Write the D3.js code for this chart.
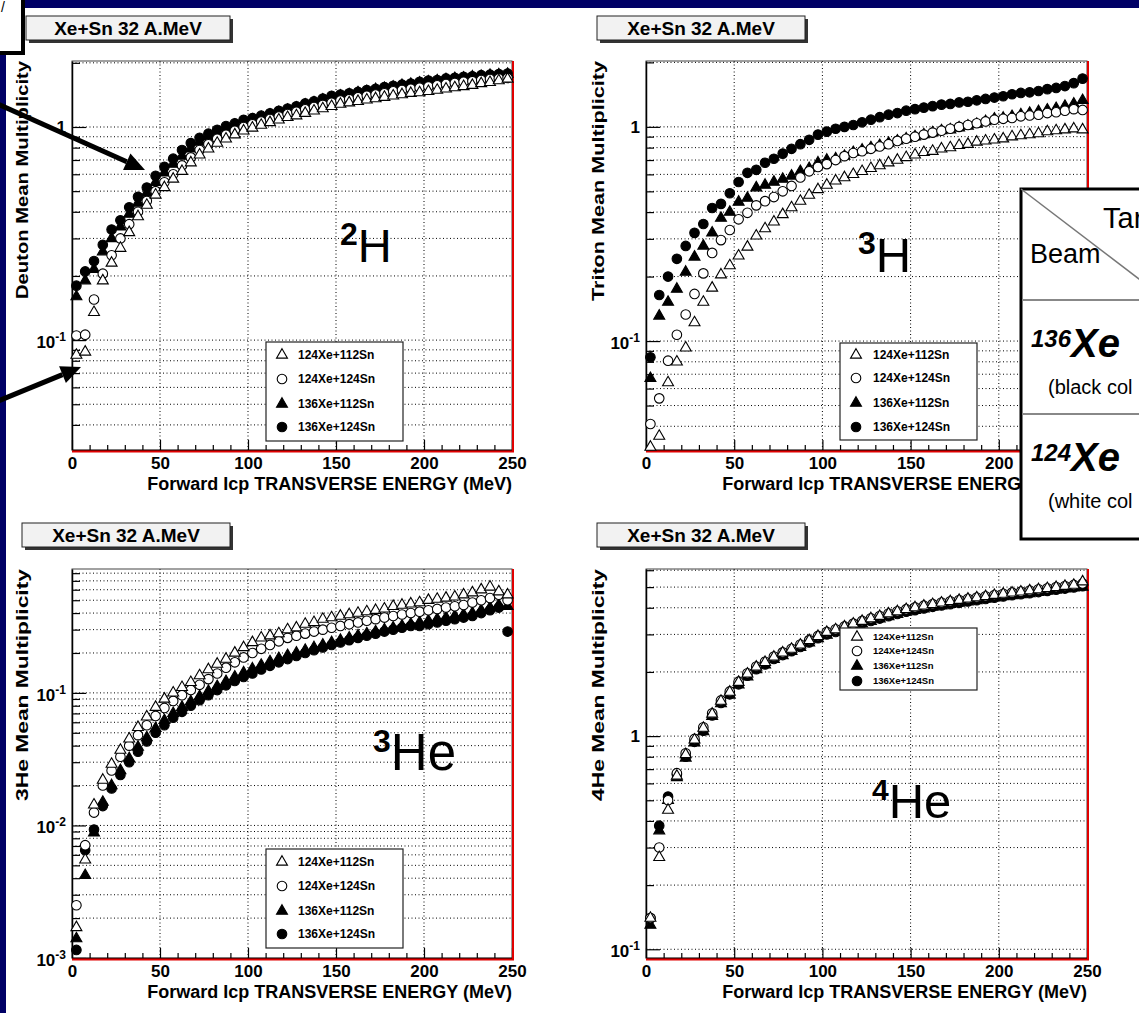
<!DOCTYPE html>
<html>
<head>
<meta charset="utf-8">
<script src="https://cdn.jsdelivr.net/npm/d3@7"></script>
<style>
  body { margin: 0; background: #000066; }
  svg text { font-family: "Liberation Sans", Arial, sans-serif; }
</style>
</head>
<body>
<div id="chart"></div>
<script>
// bin centres (MeV)
const energy = [2.5,7.5,12.5,17.5,22.5,27.5,32.5,37.5,42.5,47.5,52.5,57.5,62.5,67.5,72.5,77.5,82.5,87.5,92.5,97.5,
  102.5,107.5,112.5,117.5,122.5,127.5,132.5,137.5,142.5,147.5,152.5,157.5,162.5,167.5,172.5,177.5,182.5,187.5,192.5,197.5,
  202.5,207.5,212.5,217.5,222.5,227.5,232.5,237.5,242.5,247.5];

const systems = ["124Xe+112Sn", "124Xe+124Sn", "136Xe+112Sn", "136Xe+124Sn"];
const xMajor = [0, 50, 100, 150, 200, 250];
const xMinor = [10,20,30,40,60,70,80,90,110,120,130,140,160,170,180,190,210,220,230,240];

// Deuton
const deutonWT = [0.085,0.088,0.135,0.19,0.23,0.27,0.32,0.38,0.43,0.48,0.52,0.57,0.62,0.68,0.74,0.79,0.84,0.88,0.92,0.96,
  0.99,1.02,1.05,1.08,1.11,1.13,1.16,1.19,1.22,1.25,1.28,1.3,1.32,1.34,1.36,1.38,1.4,1.42,1.44,1.45,1.47,1.49,1.51,1.53,1.55,1.57,1.6,1.62,1.65,1.68];
const deutonWC = [0.105,0.106,0.155,0.205,0.25,0.3,0.35,0.4,0.45,0.5,0.55,0.6,0.66,0.72,0.78,0.83,0.88,0.92,0.96,1.0,
  1.03,1.06,1.09,1.12,1.15,1.18,1.21,1.24,1.27,1.3,1.33,1.35,1.38,1.4,1.42,1.44,1.47,1.49,1.51,1.53,1.55,1.57,1.59,1.61,1.63,1.64,1.66,1.68,1.69,1.7];
const deutonBT = [0.16,0.19,0.215,0.26,0.3,0.34,0.39,0.44,0.49,0.55,0.61,0.67,0.73,0.79,0.85,0.9,0.94,0.98,1.02,1.05,
  1.08,1.11,1.14,1.17,1.2,1.23,1.27,1.3,1.34,1.37,1.4,1.42,1.45,1.47,1.5,1.52,1.54,1.57,1.59,1.61,1.63,1.65,1.67,1.69,1.7,1.72,1.73,1.75,1.76,1.77];
const deutonBC = [0.18,0.21,0.235,0.28,0.33,0.365,0.42,0.47,0.52,0.59,0.65,0.71,0.78,0.84,0.89,0.93,0.97,1.01,1.04,1.08,
  1.1,1.13,1.16,1.19,1.22,1.25,1.29,1.32,1.36,1.4,1.42,1.44,1.46,1.49,1.51,1.54,1.56,1.58,1.6,1.63,1.65,1.66,1.69,1.7,1.72,1.73,1.75,1.76,1.77,1.78];

// Triton
const tritonWT = [0.032,0.036,0.064,0.08,0.093,0.122,0.152,0.177,0.204,0.225,0.25,0.275,0.31,0.335,0.36,0.39,0.42,0.45,0.48,0.51,
  0.535,0.56,0.58,0.6,0.62,0.64,0.66,0.68,0.7,0.72,0.74,0.76,0.77,0.79,0.8,0.82,0.83,0.85,0.86,0.87,0.88,0.9,0.91,0.92,0.93,0.95,0.96,0.97,0.98,0.97];
const tritonWC = [0.041,0.054,0.081,0.107,0.133,0.166,0.207,0.258,0.296,0.33,0.37,0.397,0.43,0.45,0.47,0.5,0.53,0.58,0.62,0.65,
  0.67,0.7,0.73,0.755,0.77,0.79,0.81,0.83,0.86,0.88,0.9,0.92,0.94,0.96,0.98,1.0,1.02,1.04,1.06,1.08,1.09,1.1,1.12,1.13,1.14,1.16,1.17,1.19,1.21,1.2];
const tritonBT = [0.067,0.131,0.152,0.175,0.21,0.247,0.278,0.32,0.375,0.4,0.446,0.465,0.52,0.535,0.553,0.57,0.59,0.62,0.64,0.68,
  0.7,0.71,0.73,0.76,0.78,0.8,0.82,0.84,0.86,0.88,0.9,0.92,0.94,0.96,0.97,0.99,1.01,1.03,1.06,1.09,1.1,1.12,1.14,1.16,1.18,1.2,1.22,1.25,1.28,1.33];
const tritonBC = [0.084,0.164,0.2,0.242,0.278,0.32,0.352,0.418,0.437,0.49,0.553,0.61,0.63,0.68,0.71,0.75,0.79,0.83,0.87,0.92,
  0.95,0.98,1.0,1.02,1.05,1.08,1.11,1.14,1.16,1.19,1.21,1.23,1.25,1.27,1.28,1.3,1.31,1.33,1.35,1.37,1.39,1.42,1.44,1.45,1.47,1.5,1.52,1.55,1.6,1.68];

// 3He
const he3WT = [0.0017,0.0055,0.0143,0.022,0.029,0.037,0.045,0.055,0.066,0.078,0.09,0.1,0.11,0.12,0.135,0.15,0.165,0.18,0.2,0.22,
  0.24,0.26,0.27,0.28,0.3,0.31,0.33,0.34,0.36,0.37,0.38,0.39,0.4,0.41,0.42,0.43,0.45,0.46,0.47,0.48,0.5,0.51,0.52,0.53,0.55,0.57,0.6,0.63,0.58,0.55];
const he3WC = [0.0025,0.0071,0.0125,0.02,0.026,0.033,0.04,0.048,0.057,0.067,0.077,0.087,0.096,0.105,0.115,0.127,0.14,0.155,0.17,0.185,
  0.2,0.215,0.23,0.245,0.26,0.27,0.28,0.29,0.3,0.31,0.32,0.33,0.34,0.35,0.36,0.37,0.38,0.39,0.4,0.41,0.42,0.43,0.44,0.45,0.46,0.48,0.5,0.52,0.55,0.5];
const he3BT = [0.0014,0.0042,0.0088,0.015,0.02,0.026,0.032,0.039,0.046,0.054,0.062,0.07,0.078,0.086,0.094,0.103,0.112,0.122,0.132,0.142,
  0.152,0.162,0.172,0.182,0.192,0.2,0.21,0.22,0.23,0.24,0.25,0.26,0.27,0.28,0.29,0.3,0.31,0.32,0.33,0.34,0.35,0.36,0.37,0.38,0.39,0.4,0.42,0.44,0.46,0.45];
const he3BC = [0.00115,0.0065,0.0093,0.014,0.019,0.024,0.03,0.036,0.043,0.05,0.057,0.065,0.072,0.08,0.088,0.096,0.105,0.114,0.123,0.132,
  0.14,0.15,0.16,0.17,0.18,0.19,0.2,0.21,0.22,0.23,0.24,0.25,0.26,0.27,0.28,0.29,0.3,0.31,0.32,0.32,0.33,0.34,0.35,0.36,0.37,0.38,0.4,0.42,0.44,0.29];

// 4He
const he4WT = [0.14,0.27,0.45,0.65,0.82,0.96,1.09,1.27,1.46,1.61,1.79,1.96,2.11,2.22,2.35,2.46,2.56,2.68,2.81,2.94,
  3.07,3.16,3.26,3.36,3.46,3.56,3.65,3.75,3.84,3.93,4.01,4.08,4.15,4.22,4.28,4.34,4.4,4.46,4.52,4.58,4.64,4.7,4.75,4.81,4.87,4.93,4.99,5.05,5.11,5.3];
const he4WC = [0.14,0.3,0.5,0.67,0.83,0.97,1.1,1.28,1.47,1.62,1.8,1.97,2.12,2.23,2.36,2.47,2.57,2.69,2.82,2.95,
  3.08,3.17,3.27,3.37,3.47,3.57,3.66,3.76,3.85,3.94,4.02,4.09,4.16,4.23,4.29,4.35,4.41,4.47,4.53,4.59,4.65,4.71,4.76,4.82,4.88,4.94,5.0,5.06,5.12,5.2];
const he4BT = [0.13,0.36,0.5,0.64,0.79,0.93,1.05,1.24,1.42,1.56,1.74,1.9,2.05,2.16,2.29,2.39,2.5,2.61,2.74,2.87,
  2.98,3.07,3.17,3.27,3.36,3.46,3.55,3.64,3.73,3.82,3.89,3.96,4.03,4.09,4.15,4.21,4.27,4.33,4.39,4.45,4.51,4.57,4.62,4.67,4.73,4.79,4.85,4.91,4.97,5.0];
const he4BC = [0.14,0.38,0.52,0.66,0.8,0.94,1.06,1.25,1.43,1.57,1.75,1.92,2.06,2.17,2.3,2.4,2.5,2.62,2.75,2.88,
  3.0,3.08,3.18,3.28,3.38,3.47,3.56,3.65,3.74,3.83,3.9,3.97,4.04,4.1,4.16,4.22,4.28,4.34,4.4,4.46,4.52,4.58,4.63,4.68,4.74,4.8,4.86,4.92,4.98,5.05];

var W = 1139, H = 1013;
var svg = d3.select("#chart").append("svg")
    .attr("width", W).attr("height", H);

// slide background
svg.append("rect").attr("width", W).attr("height", H).attr("fill", "#000066");
svg.append("rect").attr("x", 6).attr("y", 8).attr("width", W).attr("height", H).attr("fill", "#fff");

var triangle = d3.symbol().type(d3.symbolTriangle).size(52);
var circle = d3.symbol().type(d3.symbolCircle).size(72);

// marker styles: open tri, open circle, full tri, full circle
var markers = [
  {sym: triangle, fill: "#fff"},
  {sym: circle, fill: "#fff"},
  {sym: triangle, fill: "#000"},
  {sym: circle, fill: "#000"}
];

function drawPanel(p) {
  var g = svg.append("g");
  var x = d3.scaleLinear().domain([0, 250]).range([p.left, p.right]);
  var y = d3.scaleLog().domain(p.yDomain).range([p.bottom, p.top]);

  // title box with shadow
  g.append("rect").attr("x", p.boxX + 3).attr("y", p.boxY + 3)
    .attr("width", p.boxW).attr("height", 24).attr("fill", "#333");
  g.append("rect").attr("x", p.boxX).attr("y", p.boxY)
    .attr("width", p.boxW).attr("height", 24)
    .attr("fill", "#f2f2f2").attr("stroke", "#222").attr("stroke-width", 1);
  g.append("text").attr("x", p.boxX + p.boxW / 2).attr("y", p.boxY + 19)
    .attr("text-anchor", "middle").attr("font-weight", "bold").attr("font-size", 19)
    .text("Xe+Sn 32 A.MeV");

  // grid
  var yt = y.ticks().filter(function(t) { return y(t) < p.bottom - 1 && y(t) > p.top + 1; });
  g.selectAll(".hg").data(yt).enter().append("line")
    .attr("x1", p.left).attr("x2", p.right)
    .attr("y1", function(d) { return y(d); }).attr("y2", function(d) { return y(d); })
    .attr("stroke", "#000").attr("stroke-width", 1).attr("stroke-dasharray", "1,2.5");
  g.selectAll(".vg").data([50, 100, 150, 200]).enter().append("line")
    .attr("x1", function(d) { return x(d); }).attr("x2", function(d) { return x(d); })
    .attr("y1", p.top).attr("y2", p.bottom)
    .attr("stroke", "#000").attr("stroke-width", 1).attr("stroke-dasharray", "1,2.5");

  // frame
  g.append("rect").attr("x", p.left).attr("y", p.top)
    .attr("width", p.right - p.left).attr("height", p.bottom - p.top)
    .attr("fill", "none").attr("stroke", "#444").attr("stroke-width", 1);

  // x axis
  var xa = g.append("g").attr("transform", "translate(0," + p.bottom + ")")
    .call(d3.axisBottom(x).tickValues(xMajor).tickSize(-10).tickSizeOuter(0).tickPadding(7));
  xa.selectAll("text").attr("font-size", 17).attr("font-weight", "bold").attr("fill", "#000")
    .style("font-family", "'Liberation Sans', Arial, sans-serif");
  xa.selectAll("line").attr("stroke-width", 1.2);
  xa.select(".domain").attr("stroke-width", 1.5);
  var xm = g.append("g").attr("transform", "translate(0," + p.bottom + ")")
    .call(d3.axisBottom(x).tickValues(xMinor).tickSize(-5).tickSizeOuter(0).tickFormat(""));
  xm.select(".domain").remove();
  xm.selectAll("line").attr("stroke-width", 1.2);

  // y axis
  var decades = y.ticks().filter(function(t) { return Math.abs(Math.log10(t) - Math.round(Math.log10(t))) < 1e-6; });
  var minors = y.ticks().filter(function(t) { return decades.indexOf(t) < 0; });
  var ya = g.append("g").attr("transform", "translate(" + p.left + ",0)")
    .call(d3.axisLeft(y).tickValues(decades).tickSize(-14).tickSizeOuter(0).tickFormat(""));
  ya.selectAll("line").attr("stroke-width", 1.2);
  ya.select(".domain").attr("stroke-width", 1.5);
  var ym = g.append("g").attr("transform", "translate(" + p.left + ",0)")
    .call(d3.axisLeft(y).tickValues(minors).tickSize(-8).tickSizeOuter(0).tickFormat(""));
  ym.select(".domain").remove();
  ym.selectAll("line").attr("stroke-width", 1.2);

  decades.forEach(function(t) {
    var e = Math.round(Math.log10(t));
    var lab = g.append("text").attr("text-anchor", "end").attr("font-weight", "bold")
      .attr("font-size", 17).attr("x", p.left - 6).attr("y", y(t) + 8);
    if (e === 0) {
      lab.text("1").attr("y", y(t) + 6);
    } else {
      lab.append("tspan").text("10");
      lab.append("tspan").attr("font-size", 12).attr("dy", -7).text(String(e));
    }
  });

  // red edges
  g.append("line").attr("x1", p.right + 1).attr("x2", p.right + 1)
    .attr("y1", p.top).attr("y2", p.bottom + 2).attr("stroke", "#e00000").attr("stroke-width", 2);
  g.append("line").attr("x1", p.left).attr("x2", p.right + 2)
    .attr("y1", p.bottom + 1.5).attr("y2", p.bottom + 1.5).attr("stroke", "#e00000").attr("stroke-width", 2);

  // axis titles
  g.append("text").attr("x", p.right).attr("y", p.bottom + 40)
    .attr("text-anchor", "end").attr("font-weight", "bold").attr("font-size", 18)
    .text("Forward Icp TRANSVERSE ENERGY (MeV)");
  g.append("text").attr("transform", "translate(" + p.ytx + "," + p.top + ") rotate(-90)")
    .attr("text-anchor", "end").attr("font-weight", "bold").attr("font-size", 16)
    .attr("textLength", p.ytLen).attr("lengthAdjust", "spacingAndGlyphs")
    .text(p.yTitle);

  // data: filled first, open on top
  [3, 2, 1, 0].forEach(function(k) {
    g.append("g").selectAll("path").data(p.series[k].map(function(v, i) { return [energy[i], v]; }))
      .enter().append("path")
      .attr("transform", function(d) { return "translate(" + x(d[0]) + "," + y(d[1]) + ")"; })
      .attr("d", markers[k].sym)
      .attr("fill", markers[k].fill).attr("stroke", "#000").attr("stroke-width", 1.1);
  });

  // big isotope label
  var big = g.append("text").attr("x", p.lab[0]).attr("y", p.lab[1]).attr("font-size", p.lab[3]);
  big.append("tspan").attr("font-weight", "bold").attr("font-size", p.lab[4])
    .attr("dy", -p.lab[3] * 0.36).text(p.lab[2][0]);
  big.append("tspan").attr("dy", p.lab[3] * 0.36).text(p.lab[2][1]);

  // legend
  var L = p.legend;
  g.append("rect").attr("x", L.x).attr("y", L.y).attr("width", L.w).attr("height", L.h)
    .attr("fill", "#fff").attr("stroke", "#222").attr("stroke-width", 1.2);
  systems.forEach(function(s, k) {
    var cy = L.y + L.rows[k];
    g.append("path").attr("transform", "translate(" + (L.x + L.mx) + "," + cy + ")")
      .attr("d", markers[k].sym).attr("fill", markers[k].fill).attr("stroke", "#000").attr("stroke-width", 1.1);
    g.append("text").attr("x", L.x + L.tx).attr("y", cy + L.fs * 0.36)
      .attr("font-size", L.fs).attr("font-weight", "bold").text(s);
  });
}

drawPanel({left: 72, right: 512, top: 61, bottom: 450, yDomain: [0.0305, 2.04],
  boxX: 26, boxY: 16, boxW: 204, ytx: 28, ytLen: 238, yTitle: "Deuton Mean Multiplicity",
  series: [deutonWT, deutonWC, deutonBT, deutonBC],
  lab: [340, 262, ["2", "H"], 47, 32],
  legend: {x: 266, y: 342, w: 137, h: 99, mx: 16, tx: 32, fs: 12, rows: [13, 37, 62, 85]}});

drawPanel({left: 646, right: 1087, top: 61, bottom: 450, yDomain: [0.031, 2.03],
  boxX: 597, boxY: 16, boxW: 208, ytx: 604, ytLen: 240, yTitle: "Triton Mean Multiplicity",
  series: [tritonWT, tritonWC, tritonBT, tritonBC],
  lab: [858, 272, ["3", "H"], 49, 32],
  legend: {x: 840, y: 343, w: 137, h: 97, mx: 16, tx: 33, fs: 12, rows: [12, 35, 60, 84]}});

drawPanel({left: 72, right: 512, top: 569, bottom: 958, yDomain: [0.001, 0.86],
  boxX: 22, boxY: 523, boxW: 208, ytx: 28, ytLen: 232, yTitle: "3He Mean Multiplicity",
  series: [he3WT, he3WC, he3BT, he3BC],
  lab: [373, 770, ["3", "He"], 51, 32],
  legend: {x: 266, y: 849, w: 137, h: 99, mx: 16, tx: 32, fs: 12, rows: [13, 37, 62, 85]}});

drawPanel({left: 646, right: 1087, top: 569, bottom: 958, yDomain: [0.091, 6.08],
  boxX: 597, boxY: 523, boxW: 208, ytx: 604, ytLen: 232, yTitle: "4He Mean Multiplicity",
  series: [he4WT, he4WC, he4BT, he4BC],
  lab: [872, 818, ["4", "He"], 49, 30],
  legend: {x: 840, y: 628, w: 137, h: 62, mx: 17, tx: 33, fs: 9.5, rows: [9, 23, 38, 53]}});

// ---- slide annotations ----
// corner box
svg.append("rect").attr("x", -10).attr("y", -10).attr("width", 33).attr("height", 63)
  .attr("fill", "#fff").attr("stroke", "#000").attr("stroke-width", 4);
svg.append("text").attr("x", 1).attr("y", 12).attr("font-size", 14).text("/");

// arrows
function arrow(x1, y1, x2, y2) {
  var a = Math.atan2(y2 - y1, x2 - x1), len = 20, wid = 9;
  var bx = x2 - len * Math.cos(a), by = y2 - len * Math.sin(a);
  svg.append("line").attr("x1", x1).attr("y1", y1).attr("x2", bx).attr("y2", by)
    .attr("stroke", "#000").attr("stroke-width", 5);
  svg.append("path").attr("d", "M" + x2 + "," + y2 +
      "L" + (bx + wid * Math.sin(a)) + "," + (by - wid * Math.cos(a)) +
      "L" + (bx - wid * Math.sin(a)) + "," + (by + wid * Math.cos(a)) + "Z")
    .attr("fill", "#000");
}
arrow(-2, 104, 145, 170);
arrow(-2, 401, 81, 367);

// target / beam table
var tb = svg.append("g");
tb.append("rect").attr("x", 1021).attr("y", 189).attr("width", 130).attr("height", 350)
  .attr("fill", "#fff").attr("stroke", "#000").attr("stroke-width", 3);
tb.append("line").attr("x1", 1021).attr("y1", 189).attr("x2", 1160).attr("y2", 295)
  .attr("stroke", "#777").attr("stroke-width", 1.5);
tb.selectAll(".hl").data([300, 414]).enter().append("line")
  .attr("x1", 1022).attr("x2", W).attr("y1", function(d) { return d; }).attr("y2", function(d) { return d; })
  .attr("stroke", "#888").attr("stroke-width", 2);
tb.append("text").attr("x", 1103).attr("y", 228).attr("font-size", 29).text("Tar");
tb.append("text").attr("x", 1030).attr("y", 263).attr("font-size", 27).text("Beam");
[["136", 357, "(black col", 394], ["124", 471, "(white col", 508]].forEach(function(r) {
  var t = tb.append("text").attr("x", 1031).attr("y", r[1]).attr("font-weight", "bold").attr("font-style", "italic");
  t.append("tspan").attr("font-size", 24).attr("dy", -10).text(r[0]);
  t.append("tspan").attr("font-size", 40).attr("dy", 10).text("Xe");
  tb.append("text").attr("x", 1048).attr("y", r[3]).attr("font-size", 20).text(r[2]);
});
</script>
</body>
</html>
